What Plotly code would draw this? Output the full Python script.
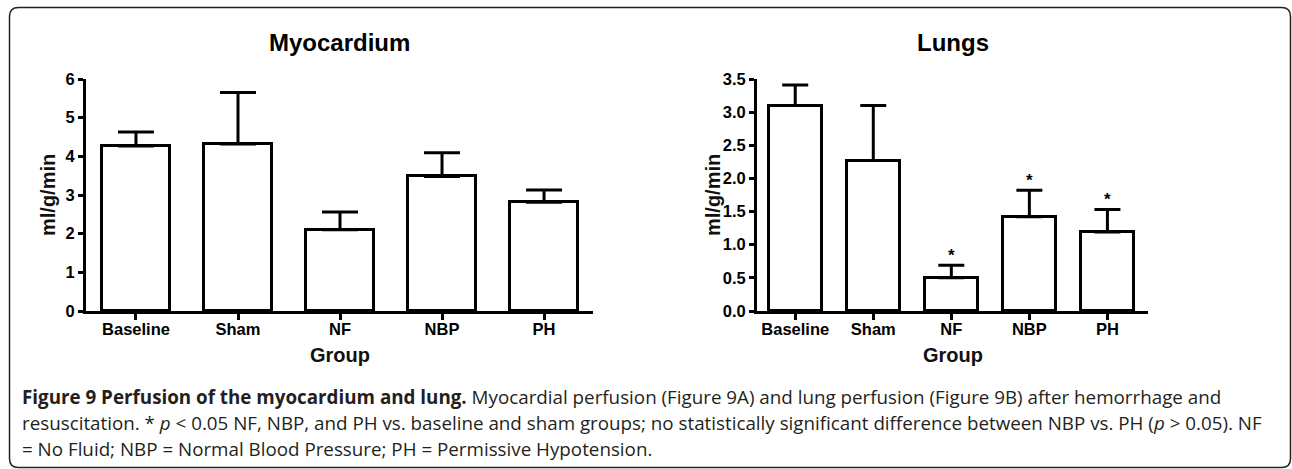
import plotly.graph_objects as go

W, H = 1292, 469

groups = ["Baseline", "Sham", "NF", "NBP", "PH"]

myo_mean = [4.27, 4.32, 2.10, 3.48, 2.81]
myo_err = [0.36, 1.33, 0.46, 0.61, 0.32]

lung_mean = [3.10, 2.27, 0.50, 1.42, 1.19]
lung_err = [0.31, 0.83, 0.19, 0.40, 0.34]
lung_sig = ["", "", "*", "*", "*"]

myo_ticks = [0, 1, 2, 3, 4, 5, 6]
lung_ticks = [0.0, 0.5, 1.0, 1.5, 2.0, 2.5, 3.0, 3.5]

caption_lines = [
    "<b>Figure 9 Perfusion of the myocardium and lung.</b> Myocardial perfusion (Figure 9A) and lung perfusion (Figure 9B) after hemorrhage and",
    "resuscitation. * <i>p</i> < 0.05 NF, NBP, and PH vs. baseline and sham groups; no statistically significant difference between NBP vs. PH (<i>p</i> > 0.05). NF",
    "= No Fluid; NBP = Normal Blood Pressure; PH = Permissive Hypotension.",
]


def fx(px):
    return px / W


def fy(py):
    return 1 - py / H


AX_FONT = dict(family="Liberation Sans, Arial", size=16.5, color="black", weight="bold")

fig = go.Figure()

fig.add_trace(go.Bar(
    x=groups, y=myo_mean, width=0.667,
    marker=dict(color="white", line=dict(color="black", width=3)),
    error_y=dict(type="data", array=myo_err, arrayminus=[0] * len(myo_err),
                 symmetric=False, color="black", thickness=3, width=18),
    xaxis="x", yaxis="y", showlegend=False, hoverinfo="skip",
))

fig.add_trace(go.Bar(
    x=groups, y=lung_mean, width=0.68,
    marker=dict(color="white", line=dict(color="black", width=3)),
    error_y=dict(type="data", array=lung_err, arrayminus=[0] * len(lung_err),
                 symmetric=False, color="black", thickness=3, width=13),
    xaxis="x2", yaxis="y2", showlegend=False, hoverinfo="skip",
))

fig.add_trace(go.Scatter(
    x=groups, y=[m + e for m, e in zip(lung_mean, lung_err)],
    mode="text", text=lung_sig, textposition="top center",
    textfont=dict(family="Liberation Sans, Arial", size=17, color="black", weight="bold"),
    xaxis="x2", yaxis="y2", showlegend=False, hoverinfo="skip", cliponaxis=False,
))

common_x = dict(type="category", showline=True, linewidth=3, linecolor="black",
                ticks="outside", ticklen=6, tickwidth=3, tickcolor="black",
                showgrid=False, zeroline=False, tickfont=AX_FONT, fixedrange=True,
                automargin=False, ticklabelstandoff=-5)
common_y = dict(showline=True, linewidth=3, linecolor="black",
                ticks="outside", ticklen=5, tickwidth=3, tickcolor="black",
                showgrid=False, zeroline=False, tickfont=AX_FONT, fixedrange=True,
                automargin=False)

L_ax = (86, 593)
R_ax = (757, 1148)
Y_ax = (79, 311)

fig.update_layout(
    width=W, height=H,
    margin=dict(l=0, r=0, t=0, b=0, pad=0, autoexpand=False),
    paper_bgcolor="white", plot_bgcolor="white",
    bargap=0,
    xaxis=dict(domain=[fx(L_ax[0]), fx(L_ax[1])], range=[-0.49, 4.48], anchor="y", **common_x),
    yaxis=dict(domain=[fy(Y_ax[1]), fy(Y_ax[0])], range=[0, 6], tickvals=myo_ticks,
               anchor="x", **common_y),
    xaxis2=dict(domain=[fx(R_ax[0]), fx(R_ax[1])], range=[-0.49, 4.52], anchor="y2", **common_x),
    yaxis2=dict(domain=[fy(Y_ax[1]), fy(Y_ax[0])], range=[0, 3.5], tickvals=lung_ticks,
                tickformat=".1f", anchor="x2", **common_y),
)

TITLE_FONT = dict(family="Liberation Sans, Arial", size=24, color="black", weight="bold")
LAB_FONT = dict(family="Liberation Sans, Arial", size=20, color="#111", weight="bold")

ann = []
for title, (a, b), ylab_x in [("Myocardium", L_ax, 48), ("Lungs", R_ax, 713)]:
    cx = (a + b) / 2
    ann.append(dict(text=title, x=fx(cx), y=fy(43), xref="paper", yref="paper",
                    showarrow=False, font=TITLE_FONT, xanchor="center", yanchor="middle"))
    ann.append(dict(text="Group", x=fx(cx), y=fy(355), xref="paper", yref="paper",
                    showarrow=False, font=LAB_FONT, xanchor="center", yanchor="middle"))
    ann.append(dict(text="ml/g/min", x=fx(ylab_x), y=fy(195), xref="paper", yref="paper",
                    showarrow=False, font=LAB_FONT, textangle=-90,
                    xanchor="center", yanchor="middle"))

CAP_FONT = dict(family="Open Sans", size=18.8, color="#231f20")
for i, line in enumerate(caption_lines):
    ann.append(dict(text=line, x=fx(20), y=fy(397 + 26 * i), xref="paper", yref="paper",
                    showarrow=False, font=CAP_FONT, xanchor="left", yanchor="middle",
                    align="left"))

fig.update_layout(annotations=ann)

# rounded border
x0, y0, x1, y1, r = 9.5, 7.5, 1290.5, 467.5, 9
path = (f"M {fx(x0 + r)},{fy(y0)} L {fx(x1 - r)},{fy(y0)} Q {fx(x1)},{fy(y0)} {fx(x1)},{fy(y0 + r)} "
        f"L {fx(x1)},{fy(y1 - r)} Q {fx(x1)},{fy(y1)} {fx(x1 - r)},{fy(y1)} "
        f"L {fx(x0 + r)},{fy(y1)} Q {fx(x0)},{fy(y1)} {fx(x0)},{fy(y1 - r)} "
        f"L {fx(x0)},{fy(y0 + r)} Q {fx(x0)},{fy(y0)} {fx(x0 + r)},{fy(y0)} Z")
fig.add_shape(type="path", path=path, xref="paper", yref="paper",
              line=dict(color="#222", width=1.5), fillcolor="rgba(0,0,0,0)", layer="below")

fig.write_html("out.html", config={"displayModeBar": False},
               post_script="document.body.style.margin='0';document.body.style.padding='0';")
